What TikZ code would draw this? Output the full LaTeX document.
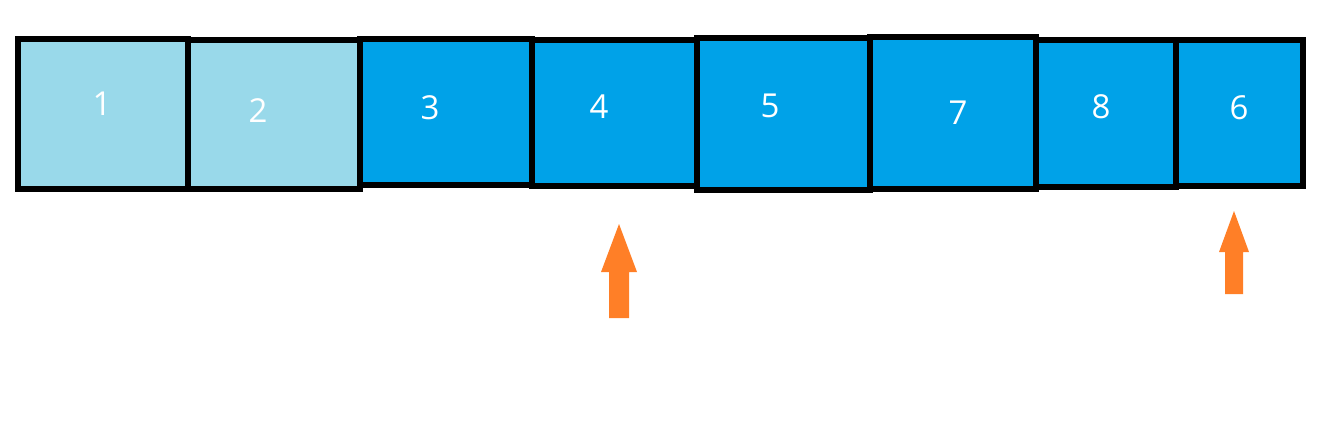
\documentclass[tikz,border=0pt]{standalone}
\usepackage{fontspec}
\setmainfont{Open Sans}
\definecolor{lightc}{HTML}{99D9EA}
\definecolor{darkc}{HTML}{00A2E8}
\definecolor{arrowc}{HTML}{FF7F27}
\tikzset{
  cellbox/.style={draw=black, line width=3.4pt},
  num/.style={text=white, font=\fontsize{16.5pt}{19pt}\selectfont, inner sep=0pt},
  uparrow/.style={fill=arrowc, draw=none}
}
\begin{document}
\begin{tikzpicture}[x=0.5pt,y=-0.5pt]
\useasboundingbox (0,0) rectangle (1327,424);
% cells
\draw[cellbox, fill=lightc] (18,39) rectangle (188,189);
\draw[cellbox, fill=lightc] (188,40) rectangle (360,189);
\draw[cellbox, fill=darkc] (360,39) rectangle (532,185);
\draw[cellbox, fill=darkc] (532,40) rectangle (697,186);
\draw[cellbox, fill=darkc] (697,38) rectangle (870,190);
\draw[cellbox, fill=darkc] (870,37) rectangle (1036,189);
\draw[cellbox, fill=darkc] (1036,40) rectangle (1176,187);
\draw[cellbox, fill=darkc] (1176,40) rectangle (1303,186);
% labels
\node[num] (n1) at (102,104) {1};
\node[num] (n2) at (258,111) {2};
\node[num] (n3) at (430,108) {3};
\node[num] (n4) at (599,107) {4};
\node[num] (n5) at (770,106) {5};
\node[num] (n7) at (958,113) {7};
\node[num] (n8) at (1101,107) {8};
\node[num] (n6) at (1239,108) {6};
% arrows
\fill[uparrow] (619,224) -- (637,272) -- (629,272) -- (629,318) -- (609,318) -- (609,272) -- (601,272) -- cycle;
\fill[uparrow] (1234,211) -- (1249,252) -- (1243,252) -- (1243,294) -- (1225,294) -- (1225,252) -- (1219,252) -- cycle;
\end{tikzpicture}
\end{document}
